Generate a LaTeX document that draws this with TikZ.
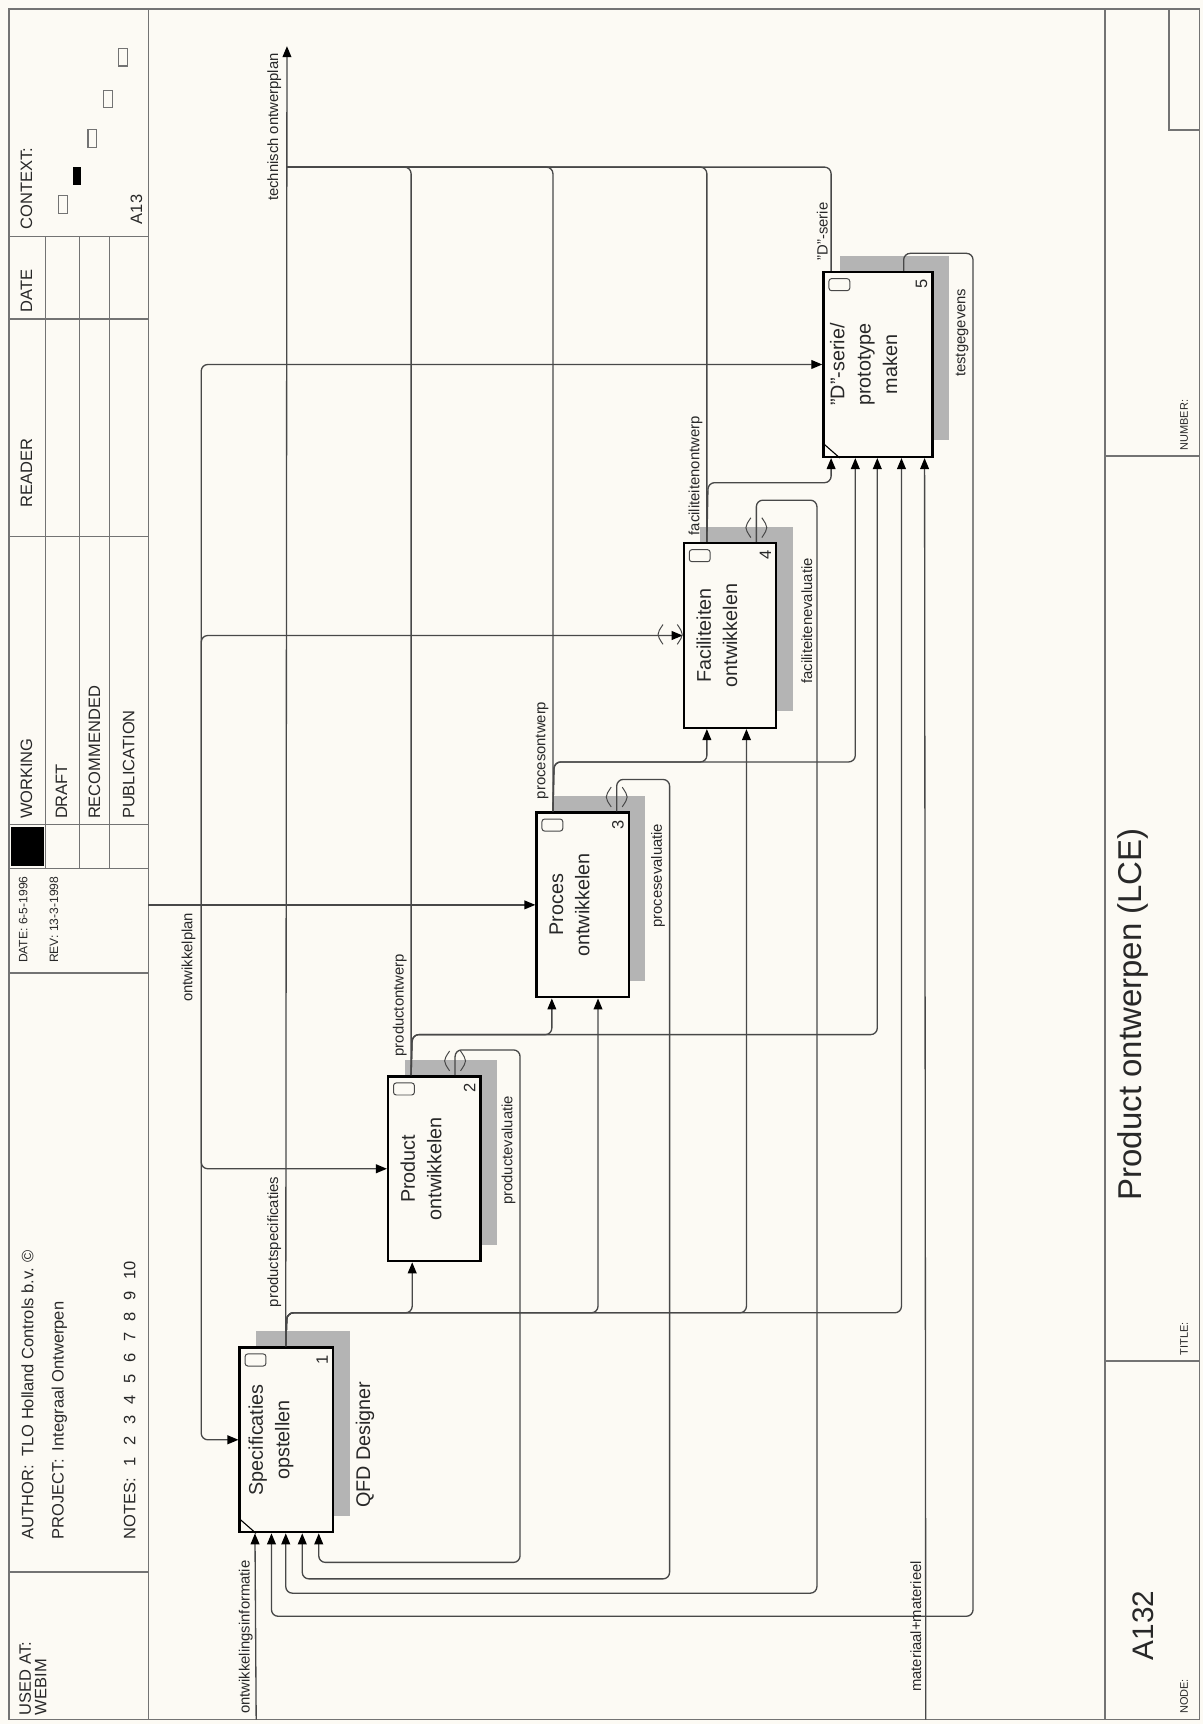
\documentclass[tikz,border=0pt]{standalone}
\usepackage{fontspec}
\setmainfont{Liberation Sans}
\usetikzlibrary{arrows.meta, calc, positioning}
\definecolor{idefpaper}{RGB}{252,250,244}
\definecolor{idefline}{RGB}{72,72,72}
\definecolor{idefdark}{RGB}{40,40,40}
\definecolor{idefshade}{RGB}{180,180,180}
\definecolor{idefframe}{RGB}{115,115,115}
\tikzset{
  actbox/.style={rectangle, draw=black, fill=idefpaper, line width=2.2pt,
    minimum height=168pt, inner sep=0pt},
  boxlabel/.style={rotate=90, align=center, text=idefdark,
    font=\fontsize{18}{24}\selectfont},
  boxnum/.style={rotate=90, inner sep=0pt, text=idefdark,
    font=\fontsize{15}{17}\selectfont},
  flow/.style={draw=idefline, line width=1.2pt, rounded corners=6pt},
  flowarrow/.style={flow, -{Triangle[length=10pt, width=8pt, color=black]}},
  flowlabel/.style={rotate=90, inner sep=1pt, text=idefdark,
    font=\fontsize{13.5}{16}\selectfont},
  frame/.style={draw=idefframe, line width=1.5pt},
  hdrtext/.style={rotate=90, anchor=west, inner sep=0pt, text=idefdark,
    font=\fontsize{15}{17}\selectfont},
  tunnel/.style={draw=idefline, line width=0.9pt}
}

\begin{document}
\begin{tikzpicture}[x=1pt, y=-1pt]
  % sheet
  \fill[idefpaper] (0,0) rectangle (1094,1568);
  \useasboundingbox (0,0) rectangle (1094,1568);
  \draw[frame] (8,8) rectangle (1091,1564);
  \draw[frame] (135,8) -- (135,1564);
  \draw[frame] (1005,8) -- (1005,1564);

  % header rows
  \foreach \y in {1430,885,790,750,488,290,215}
    \draw[frame] (8,\y) -- (135,\y);
  \foreach \x in {41,72,100}
    \draw[frame, line width=0.9pt] (\x,215) -- (\x,790);
  \fill[black] (10,752) rectangle (40,788);
  \node[hdrtext] (usedat) at (23,1560) {USED AT:};
  \node[hdrtext] (usedby) at (37,1560) {WEBIM};
  \node[hdrtext] (author) at (25,1400) {AUTHOR:\enspace TLO Holland Controls b.v. ©};
  \node[hdrtext] (project) at (54,1400) {PROJECT:\enspace Integraal Ontwerpen};
  \node[hdrtext] (notes) at (118,1400) {NOTES:\hspace{0.7em}1\hspace{0.7em}2\hspace{0.7em}3\hspace{0.7em}4\hspace{0.7em}5\hspace{0.7em}6\hspace{0.7em}7\hspace{0.7em}8\hspace{0.7em}9\hspace{0.7em}10};
  \node[hdrtext, font=\fontsize{11}{13}\selectfont] (datecr) at (21,876) {DATE: 6-5-1996};
  \node[hdrtext, font=\fontsize{11}{13}\selectfont] (daterev) at (49,876) {REV: 13-3-1998};
  \node[hdrtext] (working) at (24,745) {WORKING};
  \node[hdrtext] (draft) at (56,745) {DRAFT};
  \node[hdrtext] (recommended) at (86,745) {RECOMMENDED};
  \node[hdrtext] (publication) at (117,745) {PUBLICATION};
  \node[hdrtext] (reader) at (24,462) {READER};
  \node[hdrtext] (readdate) at (24,284) {DATE};
  \node[hdrtext] (context) at (24,209) {CONTEXT:};
  \node[hdrtext] (ctxnode) at (124,204) {A13};
  % context sketch
  \foreach \cx/\cy in {57/186, 84/126, 98/90, 112/52}
    \draw[frame, line width=1pt] (\cx-4,\cy-8) rectangle (\cx+4,\cy+8);
  \fill[black] (66,152) rectangle (74,168);

  % title block
  \draw[frame] (1005,415) -- (1091,415);
  \draw[frame] (1005,1238) -- (1091,1238);
  \draw[frame] (1063,8) rectangle (1091,118);
  \node[hdrtext, font=\fontsize{10}{12}\selectfont] (nodelbl) at (1077,1559) {NODE:};
  \node[hdrtext, font=\fontsize{10}{12}\selectfont] (titlelbl) at (1077,1233) {TITLE:};
  \node[hdrtext, font=\fontsize{10}{12}\selectfont] (numberlbl) at (1077,410) {NUMBER:};
  \node[hdrtext, font=\fontsize{27}{30}\selectfont] (nodeno) at (1040,1510) {A132};
  \node[hdrtext, font=\fontsize{30}{34}\selectfont] (title) at (1030,1092) {Product ontwerpen (LCE)};

  % activity boxes with shadow
  \foreach \n/\cx/\cy/\w in {b1/260.5/1309.5/85, b2/395/1063/84, b3/530/823/84,
                             b4/664/578/84, b5/798.5/331.5/99} {
    \fill[idefshade] (\cx-\w/2+15,\cy-99) rectangle (\cx+\w/2+15,\cy+69);
    \node[actbox, minimum width={\w pt}] (\n) at (\cx,\cy) {};
  }
  \node[boxlabel] (t1) at ($(b1)+(-14,0)$) {Specificaties\\opstellen};
  \node[boxlabel] (t2) at ($(b2)+(-12,0)$) {Product\\ontwikkelen};
  \node[boxlabel] (t3) at ($(b3)+(-12,0)$) {Proces\\ontwikkelen};
  \node[boxlabel] (t4) at ($(b4)+(-12,0)$) {Faciliteiten\\ontwikkelen};
  \node[boxlabel] (t5) at ($(b5)+(-13,0)$) {"D"-serie/\\prototype\\maken};
  \foreach \n/\k in {b1/1, b2/2, b3/3, b4/4, b5/5}
    \node[boxnum] (\n-num) at ($(\n.north east)+(-11,12)$) {\k};
  \foreach \n in {b1, b2, b3, b4, b5}
    \draw[tunnel, rounded corners=2.5pt] ($(\n.north west)+(6,7)$) rectangle ++(19,11);
  \foreach \n in {b1, b5}
    \draw[line width=1pt] ($(\n.south west)+(0,-14)$) -- ($(\n.south west)+(16,0)$);
  \node[boxlabel, anchor=north west] (mech1) at (320,1375) {QFD Designer};

  % ports
  \coordinate (b1o) at ($(b1.north west)+(43,0)$);
  \coordinate (b2o) at ($(b2.north west)+(22,0)$);
  \coordinate (b3o) at ($(b3.north west)+(16,0)$);
  \coordinate (b4o) at ($(b4.north west)+(22,0)$);
  \coordinate (b5o) at ($(b5.north west)+(8,0)$);
  \coordinate (b2f) at ($(b2.north west)+(62,0)$);
  \coordinate (b3f) at ($(b3.north west)+(74,0)$);
  \coordinate (b4f) at ($(b4.north west)+(67,0)$);
  \coordinate (b5f) at ($(b5.north west)+(74,0)$);
  \foreach \i/\dx in {1/15, 2/30, 3/43, 4/58, 5/73}
    \coordinate (b1i\i) at ($(b1.south west)+(\dx,0)$);
  \coordinate (b2i1) at ($(b2.south west)+(23,0)$);
  \coordinate (b3i1) at ($(b3.south west)+(15,0)$);
  \coordinate (b3i2) at ($(b3.south west)+(57,0)$);
  \coordinate (b4i1) at ($(b4.south west)+(22,0)$);
  \coordinate (b4i2) at ($(b4.south west)+(58,0)$);
  \foreach \i/\dx in {1/8, 2/30, 3/50, 4/72, 5/93}
    \coordinate (b5i\i) at ($(b5.south west)+(\dx,0)$);

  % outputs to technisch ontwerpplan
  \coordinate (outend) at (261,42);
  \coordinate (busT) at (261,152);
  \draw[flowarrow] (b1o) -- (outend);
  \foreach \p in {b2o, b3o, b4o, b5o}
    \draw[flow] (\p) |- (busT);
  \node[flowlabel, anchor=south west] (lbltop) at (257,184) {technisch ontwerpplan};

  % productspecificaties
  \coordinate (psb) at (261,1194);
  \foreach \t in {b2i1, b3i2, b4i2, b5i4}
    \draw[flowarrow] (b1o) -- (psb) -| (\t);
  \node[flowlabel, anchor=south west] (lblps) at (257,1190) {productspecificaties};
  % productontwerp
  \coordinate (pob) at (375,941);
  \foreach \t in {b3i1, b5i3}
    \draw[flowarrow] (b2o) -- (pob) -| (\t);
  \node[flowlabel, anchor=south west] (lblpo) at (371,962) {productontwerp};
  % procesontwerp
  \coordinate (pcb) at (504,693);
  \foreach \t in {b4i1, b5i2}
    \draw[flowarrow] (b3o) -- (pcb) -| (\t);
  \node[flowlabel, anchor=south west] (lblpc) at (500,728) {procesontwerp};
  % faciliteitenontwerp
  \coordinate (fob) at (644,439);
  \draw[flowarrow] (b4o) -- (fob) -| (b5i1);
  \node[flowlabel, anchor=south west] (lblfo) at (640,488) {faciliteitenontwerp};
  \node[flowlabel, anchor=south west] (lblds) at (754,238) {"D"-serie};

  % feedback to box 1
  \draw[flowarrow] (b2f) -- ++(0,-23) -| (473,1421) -| (b1i5);
  \draw[flowarrow] (b3f) -- ++(0,-29) -| (609,1436) -| (b1i4);
  \draw[flowarrow] (b4f) -- ++(0,-38) -| (743,1449) -| (b1i3);
  \draw[flowarrow] (b5f) -- ++(0,-16) -| (885,1470) -| (b1i2);
  \node[flowlabel, anchor=south west] (lblpe) at (470,1097) {productevaluatie};
  \node[flowlabel, anchor=south west] (lblpce) at (606,845) {procesevaluatie};
  \node[flowlabel, anchor=south west] (lblfe) at (740,623) {faciliteitenevaluatie};
  \node[flowlabel, anchor=south west] (lbltg) at (882,344) {testgegevens};
  \foreach \p in {b2f, b3f, b4f} {
    \draw[tunnel] ($(\p)+(-5,-4)$) .. controls ($(\p)+(-11,-13)$) .. ($(\p)+(-5,-22)$);
    \draw[tunnel] ($(\p)+(5,-4)$) .. controls ($(\p)+(11,-13)$) .. ($(\p)+(5,-22)$);
  }

  % control ontwikkelplan
  \coordinate (ctlin) at (135,823);
  \coordinate (ctlbus) at (183,823);
  \draw[flowarrow] (ctlin) -- (b3.west);
  \foreach \t in {b1, b2, b4, b5}
    \draw[flowarrow] (ctlbus) |- (\t.west);
  \node[flowlabel, anchor=south east] (lblcp) at (179,829) {ontwikkelplan};
  \draw[tunnel] (603,568) .. controls (597,577) .. (603,586);
  \draw[tunnel] (616,568) .. controls (622,577) .. (616,586);

  % boundary inputs
  \coordinate (oi) at (233,1564);
  \coordinate (mm) at (842,1564);
  \draw[flowarrow] (oi) -- (b1i1);
  \draw[flowarrow] (mm) -- (b5i5);
  \node[flowlabel, anchor=south west] (lbloi) at (231,1560) {ontwikkelingsinformatie};
  \node[flowlabel, anchor=south west] (lblmm) at (839,1540) {materiaal+materieel};
\end{tikzpicture}
\end{document}
